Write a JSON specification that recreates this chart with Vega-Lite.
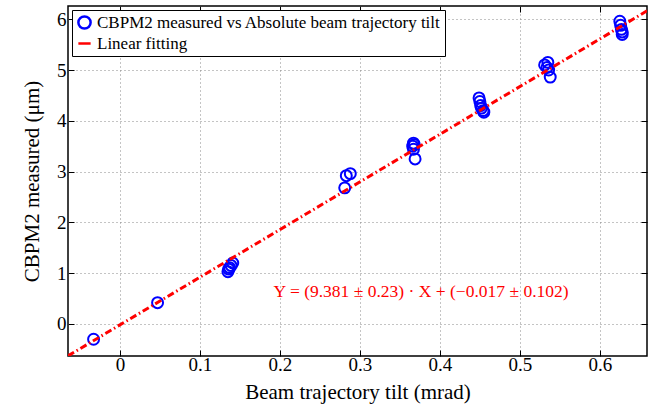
{
  "$schema": "https://vega.github.io/schema/vega-lite/v6.json",
  "width": 579,
  "height": 350,
  "autosize": {"type": "none"},
  "padding": {"left": 68, "top": 6, "right": 13, "bottom": 60},
  "background": "white",
  "config": {
    "view": {"stroke": "black", "strokeWidth": 1.5},
    "font": "Liberation Serif",
    "axis": {
      "labelFont": "Liberation Serif",
      "titleFont": "Liberation Serif",
      "labelColor": "black",
      "titleColor": "black",
      "labelFontSize": 19,
      "titleFontSize": 21,
      "titleFontWeight": "normal",
      "domain": false,
      "tickColor": "black",
      "tickSize": -6,
      "tickWidth": 1,
      "gridColor": "#888",
      "gridDash": [1, 3],
      "gridWidth": 1
    }
  },
  "datasets": {
    "pts": [
      {"x": -0.033, "y": -0.3, "s": "CBPM2 measured vs Absolute beam trajectory tilt"},
      {"x": 0.047, "y": 0.42, "s": "CBPM2 measured vs Absolute beam trajectory tilt"},
      {"x": 0.135, "y": 1.03, "s": "CBPM2 measured vs Absolute beam trajectory tilt"},
      {"x": 0.136, "y": 1.08, "s": "CBPM2 measured vs Absolute beam trajectory tilt"},
      {"x": 0.137, "y": 1.11, "s": "CBPM2 measured vs Absolute beam trajectory tilt"},
      {"x": 0.139, "y": 1.15, "s": "CBPM2 measured vs Absolute beam trajectory tilt"},
      {"x": 0.141, "y": 1.2, "s": "CBPM2 measured vs Absolute beam trajectory tilt"},
      {"x": 0.281, "y": 2.68, "s": "CBPM2 measured vs Absolute beam trajectory tilt"},
      {"x": 0.283, "y": 2.92, "s": "CBPM2 measured vs Absolute beam trajectory tilt"},
      {"x": 0.288, "y": 2.96, "s": "CBPM2 measured vs Absolute beam trajectory tilt"},
      {"x": 0.369, "y": 3.25, "s": "CBPM2 measured vs Absolute beam trajectory tilt"},
      {"x": 0.367, "y": 3.44, "s": "CBPM2 measured vs Absolute beam trajectory tilt"},
      {"x": 0.366, "y": 3.5, "s": "CBPM2 measured vs Absolute beam trajectory tilt"},
      {"x": 0.368, "y": 3.53, "s": "CBPM2 measured vs Absolute beam trajectory tilt"},
      {"x": 0.367, "y": 3.56, "s": "CBPM2 measured vs Absolute beam trajectory tilt"},
      {"x": 0.449, "y": 4.45, "s": "CBPM2 measured vs Absolute beam trajectory tilt"},
      {"x": 0.45, "y": 4.38, "s": "CBPM2 measured vs Absolute beam trajectory tilt"},
      {"x": 0.451, "y": 4.3, "s": "CBPM2 measured vs Absolute beam trajectory tilt"},
      {"x": 0.452, "y": 4.25, "s": "CBPM2 measured vs Absolute beam trajectory tilt"},
      {"x": 0.454, "y": 4.2, "s": "CBPM2 measured vs Absolute beam trajectory tilt"},
      {"x": 0.455, "y": 4.17, "s": "CBPM2 measured vs Absolute beam trajectory tilt"},
      {"x": 0.531, "y": 5.1, "s": "CBPM2 measured vs Absolute beam trajectory tilt"},
      {"x": 0.535, "y": 5.15, "s": "CBPM2 measured vs Absolute beam trajectory tilt"},
      {"x": 0.534, "y": 5.05, "s": "CBPM2 measured vs Absolute beam trajectory tilt"},
      {"x": 0.536, "y": 5.0, "s": "CBPM2 measured vs Absolute beam trajectory tilt"},
      {"x": 0.538, "y": 4.86, "s": "CBPM2 measured vs Absolute beam trajectory tilt"},
      {"x": 0.625, "y": 5.96, "s": "CBPM2 measured vs Absolute beam trajectory tilt"},
      {"x": 0.626, "y": 5.88, "s": "CBPM2 measured vs Absolute beam trajectory tilt"},
      {"x": 0.627, "y": 5.8, "s": "CBPM2 measured vs Absolute beam trajectory tilt"},
      {"x": 0.628, "y": 5.75, "s": "CBPM2 measured vs Absolute beam trajectory tilt"},
      {"x": 0.628, "y": 5.7, "s": "CBPM2 measured vs Absolute beam trajectory tilt"}
    ],
    "fit": [
      {"x": -0.065, "y": -0.627},
      {"x": 0.66, "y": 6.174}
    ],
    "ann": [
      {"x": 0.192, "y": 0.63, "t": "Y = (9.381  ± 0.23) · X + (−0.017  ± 0.102)"}
    ]
  },
  "layer": [
    {
      "data": {"name": "pts"},
      "mark": {"type": "point", "filled": false, "strokeWidth": 2, "size": 120, "opacity": 1},
      "encoding": {
        "x": {"field": "x", "type": "quantitative", "scale": {"domain": [-0.065, 0.659], "nice": false, "zero": false},
          "axis": {"values": [0, 0.1, 0.2, 0.3, 0.4, 0.5, 0.6], "title": "Beam trajectory tilt (mrad)", "labelPadding": 5, "titlePadding": 7, "grid": true, "format": "~g"}},
        "y": {"field": "y", "type": "quantitative", "scale": {"domain": [-0.63, 6.26], "nice": false, "zero": false},
          "axis": {"values": [0, 1, 2, 3, 4, 5, 6], "title": "CBPM2 measured (μm)", "labelPadding": 8, "titlePadding": 14, "grid": true}},
        "color": {"field": "s", "type": "nominal",
          "scale": {"domain": ["CBPM2 measured vs Absolute beam trajectory tilt", "Linear fitting"], "range": ["#0000ff", "#ff0000"]},
          "legend": {"orient": "top-left", "title": null, "offset": 4, "strokeColor": "black", "fillColor": "white", "padding": 4, "labelLimit": 0,
            "labelFont": "Liberation Serif", "labelFontSize": 17, "labelColor": "black", "symbolStrokeWidth": 2.5, "symbolSize": 150, "rowPadding": 0, "symbolOpacity": 1,
            "encode": {"symbols": {"update": {"fill": {"value": "transparent"},
              "strokeDash": {"signal": "datum.value === 'Linear fitting' ? [5, 2, 1.5, 2] : [1, 0]"}}}}}},
        "shape": {"field": "s", "type": "nominal",
          "scale": {"domain": ["CBPM2 measured vs Absolute beam trajectory tilt", "Linear fitting"], "range": ["circle", "stroke"]},
          "legend": null}
      }
    },
    {
      "data": {"name": "fit"},
      "mark": {"type": "line", "strokeWidth": 3, "strokeDash": [7, 3, 1.5, 3], "clip": true, "color": "#ff0000"},
      "encoding": {
        "x": {"field": "x", "type": "quantitative", "axis": {"orient": "top", "values": [0, 0.1, 0.2, 0.3, 0.4, 0.5, 0.6], "labels": false, "title": null, "grid": false}},
        "y": {"field": "y", "type": "quantitative", "axis": {"orient": "right", "values": [0, 1, 2, 3, 4, 5, 6], "labels": false, "title": null, "grid": false}}
      }
    },
    {
      "data": {"name": "ann"},
      "mark": {"type": "text", "align": "left", "baseline": "middle", "color": "#ff0000", "fontSize": 17.5, "font": "Liberation Serif"},
      "encoding": {
        "x": {"field": "x", "type": "quantitative", "axis": null},
        "y": {"field": "y", "type": "quantitative", "axis": null},
        "text": {"field": "t"}
      }
    }
  ],
  "resolve": {"axis": {"x": "independent", "y": "independent"}}
}
